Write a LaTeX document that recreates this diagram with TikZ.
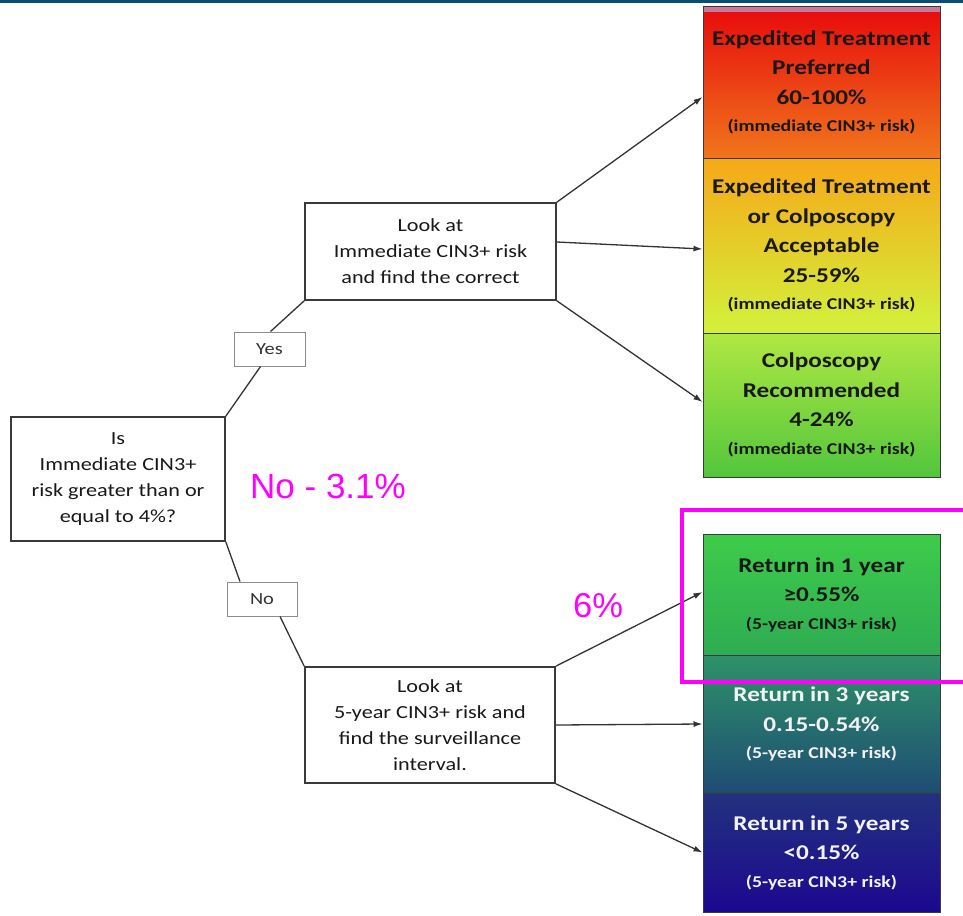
\documentclass[tikz,border=0pt]{standalone}
\usepackage{fontspec}
\setmainfont[FakeStretch=1.2]{Carlito}
\newfontfamily\magfont{Liberation Sans}
\usetikzlibrary{arrows.meta}
\definecolor{topbar}{HTML}{0A4D73}
\definecolor{lineclr}{HTML}{333333}
\definecolor{boxline}{HTML}{3A3A3A}
\definecolor{mag}{HTML}{FF00FF}
\definecolor{pinkstrip}{RGB}{196,122,152}
\definecolor{c1t}{RGB}{232,10,12}
\definecolor{c1m}{RGB}{238,50,18}
\definecolor{c1b}{RGB}{240,118,28}
\definecolor{c2t}{RGB}{247,168,24}
\definecolor{c2m}{RGB}{247,247,18}
\definecolor{c2b}{RGB}{210,242,60}
\definecolor{c3t}{RGB}{176,232,66}
\definecolor{c3b}{RGB}{82,198,60}
\definecolor{c4t}{RGB}{62,204,74}
\definecolor{c4b}{RGB}{46,172,82}
\definecolor{c5t}{RGB}{46,146,104}
\definecolor{c5b}{RGB}{30,76,116}
\definecolor{c6t}{RGB}{34,50,126}
\definecolor{c6b}{RGB}{28,8,144}
\tikzset{
  flowbox/.style={draw=boxline, line width=1.6pt, fill=white, align=center, inner sep=0pt,
    font=\fontsize{18.5}{26}\selectfont, text=black!90},
  labbox/.style={draw=black!45, line width=1pt, fill=white, inner sep=0pt,
    font=\fontsize{17}{20}\selectfont, text=black!80},
  riskbox/.style={draw=boxline, line width=1pt, minimum width=237pt, inner sep=0pt, align=center,
    font=\bfseries\fontsize{21}{29.5}\selectfont, text=black!90},
  conn/.style={draw=lineclr, line width=1.3pt},
  arr/.style={conn, -{Latex[length=9pt,width=6pt]}},
  magtext/.style={text=mag, font=\magfont, inner sep=0pt}
}
\newcommand{\smalltxt}[1]{{\fontsize{16.5}{27}\selectfont #1}}
\begin{document}
\begin{tikzpicture}[x=1pt,y=-1pt]
\useasboundingbox (0,0) rectangle (963,915);
\fill[white] (0,0) rectangle (963,915);
\fill[topbar] (0,0) rectangle (963,3);

% risk boxes, upper column
\node[riskbox, minimum height=151pt, top color=c1t, middle color=c1m, bottom color=c1b] (b1) at (821.5,82.5)
  {Expedited Treatment\\Preferred\\60-100\%\\[-2pt]\smalltxt{(immediate CIN3+ risk)}};
\fill[pinkstrip] (703.5,7.5) rectangle (939.5,12.5);
\node[riskbox, minimum height=175pt, top color=c2t, middle color=c2m, bottom color=c2b] (b2) at (821.5,245.5)
  {Expedited Treatment\\or Colposcopy\\Acceptable\\25-59\%\\[-2pt]\smalltxt{(immediate CIN3+ risk)}};
\node[riskbox, minimum height=144pt, top color=c3t, bottom color=c3b] (b3) at (821.5,405)
  {Colposcopy\\Recommended\\4-24\%\\[-2pt]\smalltxt{(immediate CIN3+ risk)}};

% risk boxes, lower column
\node[riskbox, minimum height=121pt, top color=c4t, bottom color=c4b] (b4) at (821.5,594.5)
  {Return in 1 year\\≥0.55\%\\[-2pt]\smalltxt{(5-year CIN3+ risk)}};
\node[riskbox, minimum height=138pt, text=white!95!black, top color=c5t, bottom color=c5b] (b5) at (821.5,724)
  {Return in 3 years\\0.15-0.54\%\\[-2pt]\smalltxt{(5-year CIN3+ risk)}};
\node[riskbox, minimum height=119pt, text=white!95!black, top color=c6t, bottom color=c6b] (b6) at (821.5,852.5)
  {Return in 5 years\\<0.15\%\\[-2pt]\smalltxt{(5-year CIN3+ risk)}};

% flow boxes
\node[flowbox, minimum width=214pt, minimum height=124pt] (q) at (118,479)
  {Is\\Immediate CIN3+\\risk greater than or\\equal to 4\%?};
\node[flowbox, minimum width=251pt, minimum height=97pt] (la) at (430.5,251.5)
  {Look at\\Immediate CIN3+ risk\\and find the correct};
\node[flowbox, minimum width=250pt, minimum height=116pt] (lb) at (430,725)
  {Look at\\5-year CIN3+ risk and\\find the surveillance\\interval.};
\node[labbox, minimum width=71pt, minimum height=34pt] (yes) at (269.5,349) {Yes};
\node[labbox, minimum width=70pt, minimum height=34pt] (no) at (262,599) {No};

% connectors
\draw[conn] (q.north east) -- ([xshift=-9pt]yes.south);
\draw[conn] ([xshift=1pt]yes.north) -- (la.south west);
\draw[conn] (q.south east) -- ([xshift=-22pt]no.north);
\draw[conn] ([xshift=18pt]no.south) -- (lb.north west);

\draw[arr] (la.north east) -- ([yshift=-14.5pt]b1.west);
\draw[arr] ([yshift=9.5pt]la.east) -- ([yshift=-3.5pt]b2.west);
\draw[arr] (la.south east) -- ([yshift=3pt]b3.west);
\draw[arr] (lb.north east) -- ([yshift=2.5pt]b4.west);
\draw[arr] (lb.east) -- (b5.west);
\draw[arr] (lb.south east) -- (b6.west);

% magenta annotations
\draw[mag, line width=4pt] (975,510) -- (682,510) -- (682,682) -- (975,682);
\node[magtext, anchor=west, font=\magfont\fontsize{35}{40}\selectfont] (n31) at (250,486) {No - 3.1\%};
\node[magtext, anchor=west, font=\magfont\fontsize{34.5}{40}\selectfont] (n6) at (573,606) {6\%};
\end{tikzpicture}
\end{document}
